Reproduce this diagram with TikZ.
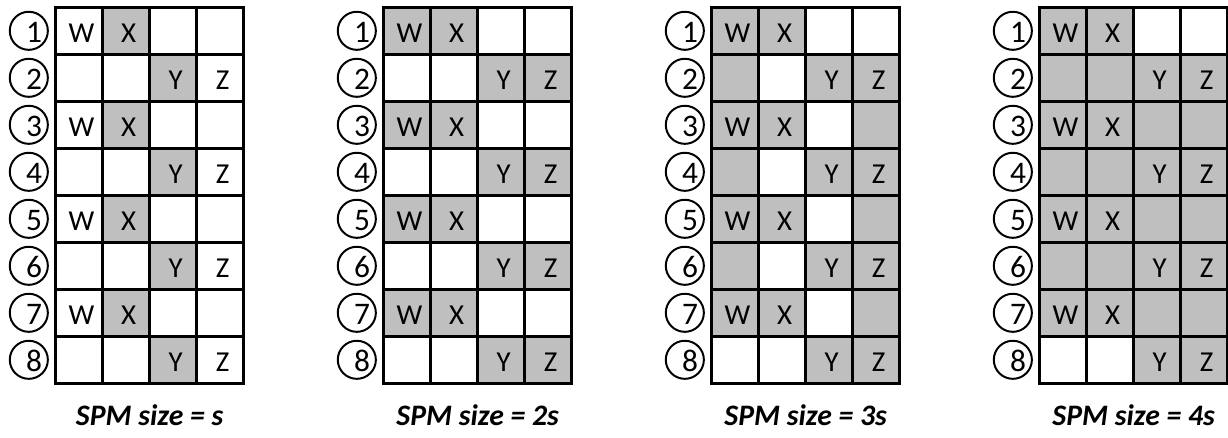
\documentclass[tikz,border=0pt]{standalone}
\usepackage{fontspec}
\setmainfont{Carlito}
\definecolor{spmgray}{RGB}{191,191,191}

% one panel: circled row numbers, 4x8 cell grid, W/X/Y/Z and caption
\newcommand{\spmpanel}[2]{%
  \foreach \r in {1,...,8}
    \node[rowno, label={[numtext]center:\r}] (#1-n\r) at (-0.572,0.5-\r) {};
  \draw[gridline] (0,0) rectangle (4,-8);
  \foreach \c in {1,2,3} \draw[gridline] (\c,0) -- (\c,-8);
  \foreach \r in {1,...,7} \draw[gridline] (0,-\r) -- (4,-\r);
  \foreach \r in {1,3,5,7} {
    \node[cell] (#1-w\r) at (0.5,0.5-\r) {W};
    \node[cell] (#1-x\r) at (1.5,0.5-\r) {X};
  }
  \foreach \r in {2,4,6,8} {
    \node[cell] (#1-y\r) at (2.5,0.5-\r) {Y};
    \node[cell] (#1-z\r) at (3.5,0.5-\r) {Z};
  }
  \node[caption] (#1-cap) at (2,-8.675) {#2};
}

\begin{document}
\begin{tikzpicture}[
    gridline/.style={line width=1.6pt},
    rowno/.style={circle, draw, line width=1.2pt, minimum size=0.81cm, inner sep=0pt},
    numtext/.style={font=\fontsize{19}{19}\selectfont, xshift=0.11cm, yshift=-0.03cm},
    cell/.style={font=\fontsize{17.5}{17.5}\selectfont, xshift=0.05cm, yshift=-0.06cm},
    caption/.style={font=\fontsize{18}{18}\selectfont\bfseries\itshape}]
    \useasboundingbox (0,0) rectangle (26.128,-9.298);

    % SPM size = s
    \begin{scope}[shift={(1.185,-0.155)}]
        \foreach \r in {1,3,5,7} \fill[spmgray] (1,1-\r) rectangle (2,-\r);
        \foreach \r in {2,4,6,8} \fill[spmgray] (2,1-\r) rectangle (3,-\r);
        \spmpanel{a}{SPM size = s}
    \end{scope}

    % SPM size = 2s
    \begin{scope}[shift={(8.164,-0.155)}]
        \foreach \r in {1,3,5,7} \fill[spmgray] (0,1-\r) rectangle (2,-\r);
        \foreach \r in {2,4,6,8} \fill[spmgray] (2,1-\r) rectangle (4,-\r);
        \spmpanel{b}{SPM size = 2s}
    \end{scope}

    % SPM size = 3s
    \begin{scope}[shift={(15.143,-0.155)}]
        \foreach \r in {1,3,5,7} \fill[spmgray] (0,1-\r) rectangle (2,-\r);
        \foreach \r in {2,4,6,8} \fill[spmgray] (2,1-\r) rectangle (4,-\r);
        \fill[spmgray] (0,-1) rectangle (1,-7);
        \fill[spmgray] (3,-1) rectangle (4,-8);
        \spmpanel{c}{SPM size = 3s}
    \end{scope}

    % SPM size = 4s
    \begin{scope}[shift={(22.122,-0.155)}]
        \fill[spmgray] (0,0) rectangle (2,-1);
        \fill[spmgray] (0,-1) rectangle (4,-7);
        \fill[spmgray] (2,-7) rectangle (4,-8);
        \spmpanel{d}{SPM size = 4s}
    \end{scope}
\end{tikzpicture}
\end{document}
